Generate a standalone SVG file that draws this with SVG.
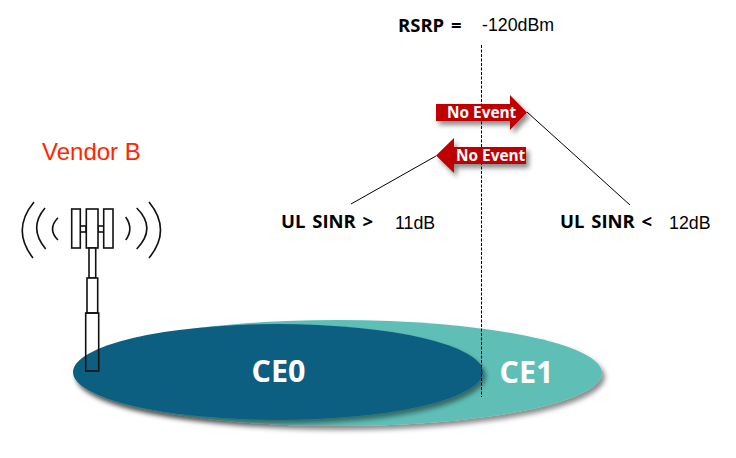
<svg xmlns="http://www.w3.org/2000/svg" width="736" height="458" viewBox="0 0 736 458">
<defs>
<filter id="sh" x="-10%" y="-30%" width="120%" height="170%"><feDropShadow dx="3" dy="4" stdDeviation="2.500" flood-color="#000" flood-opacity="0.45"/></filter>
</defs>
<style>
.b{font-family:"Open Sans","Noto Sans","Liberation Sans",sans-serif;font-weight:700}
.h{font-family:"Liberation Sans",Arial,sans-serif}
.lab{font-size:18.500px;fill:#000}
.sym{word-spacing:2px}
.val{font-size:17.800px;fill:#000}
.ev{font-size:15.400px;fill:#fff}
.ce{font-size:30.500px;fill:#fff;text-anchor:middle}
.t{fill:none;stroke:#111;stroke-width:1.600}
.w{fill:#fff;stroke:#111;stroke-width:1.600}
.ln{fill:none;stroke:#000;stroke-width:1}
</style>
<rect width="736" height="458" fill="#fff"/>
<g id="ce1"><ellipse cx="338" cy="373" rx="264" ry="53" fill="#5fbfb7" filter="url(#sh)"/><text class="b ce" x="526.500" y="383">CE1</text></g>
<g id="ce0"><ellipse cx="278" cy="372" rx="205" ry="48" fill="#115f82" filter="url(#sh)"/><text class="b ce" x="278.500" y="382">CE0</text></g>
<g id="connectors">
<line x1="481.500" y1="45" x2="481.500" y2="397" stroke="#000" stroke-width="1" stroke-dasharray="3 1.500"/>
<line class="ln" x1="527" y1="112" x2="630" y2="205"/>
<line class="ln" x1="436" y1="156" x2="351" y2="204"/>
</g>
<g id="event-right"><path d="M436 104H510V95L527 112.500L510 130V121H436Z" fill="#bf0000" filter="url(#sh)"/><text class="b ev" x="447" y="118">No Event</text></g>
<g id="event-left"><path d="M526 147H454V138L436 155.500L454 173V164H526Z" fill="#bf0000" filter="url(#sh)"/><text class="b ev" x="456" y="161">No Event</text></g>
<g id="tower">
<path class="t" d="M34 202Q11 230 33 258M45 208Q28 228 45.700 249M58 217.700Q47 229 58 240M125.700 217Q134 229 125.700 240M136.700 208Q157 228 136.700 249M149 202Q172 230 149 258"/>
<rect class="w" x="80" y="226" width="6" height="6"/>
<rect class="w" x="98" y="226" width="6" height="6"/>
<rect class="w" x="71.700" y="209" width="8.600" height="39"/>
<rect class="w" x="86.300" y="209" width="11.700" height="39"/>
<rect class="w" x="103.700" y="209" width="9.300" height="39"/>
<rect class="w" x="89" y="248" width="6.700" height="30"/>
<rect class="w" x="87" y="278" width="10.700" height="35"/>
<rect class="t" x="85.700" y="313" width="13" height="58"/>
</g>
<g id="labels">
<text class="b lab sym" x="398" y="32">RSRP =</text>
<text class="h val" x="482" y="31">-120dBm</text>
<text class="h" x="42" y="160" font-size="24" fill="#ff2600">Vendor B</text>
<text class="b lab sym" x="281" y="228">UL SINR &gt;</text>
<text class="h val" x="395" y="229">11dB</text>
<text class="b lab sym" x="560" y="228">UL SINR &lt;</text>
<text class="h val" x="669" y="229">12dB</text>
</g>
</svg>
